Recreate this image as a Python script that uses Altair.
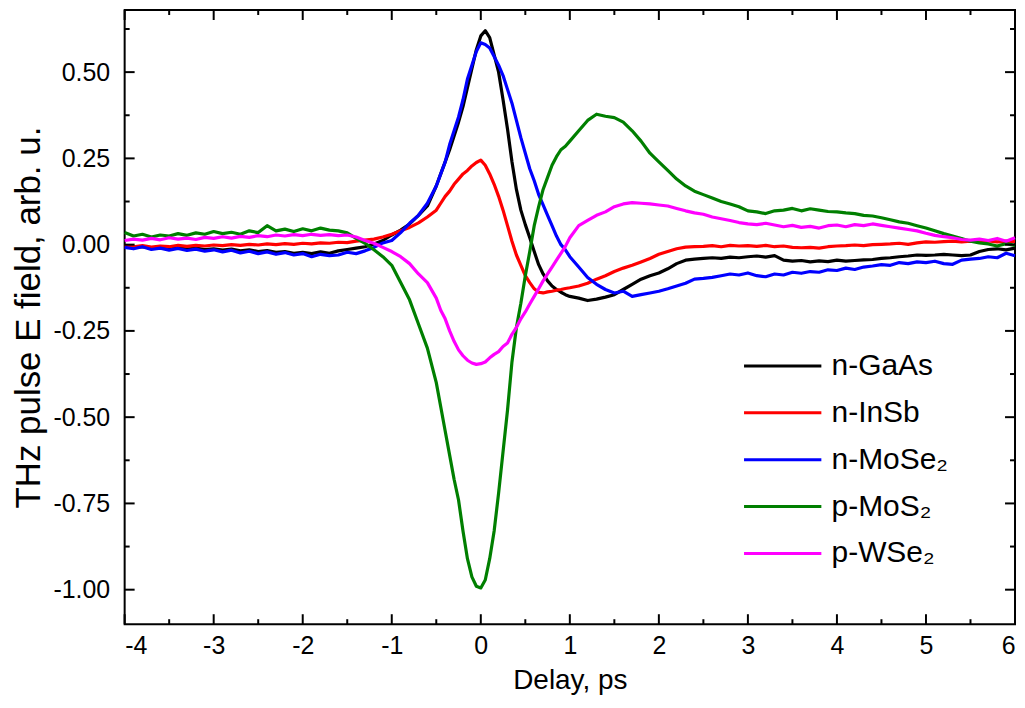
import altair as alt
import pandas as pd

# delay grid, ps (finer around the main pulse)
DELAY = [
    -4.0, -3.9, -3.8, -3.7, -3.6, -3.5, -3.4, -3.3, -3.2, -3.1,
    -3.0, -2.9, -2.8, -2.7, -2.6, -2.5, -2.4, -2.3, -2.2, -2.1,
    -2.0, -1.9, -1.8, -1.7, -1.6, -1.5, -1.4, -1.3, -1.2, -1.1,
    -1.0, -0.9, -0.8, -0.7, -0.6,
    -0.5, -0.45, -0.4, -0.35, -0.3, -0.25, -0.2, -0.15, -0.1, -0.05,
    0.0, 0.05, 0.1, 0.15, 0.2, 0.25, 0.3, 0.35, 0.4, 0.45,
    0.5, 0.55, 0.6, 0.65, 0.7, 0.75, 0.8, 0.85, 0.9, 0.95, 1.0,
    1.1, 1.2, 1.3, 1.4, 1.5, 1.6, 1.7, 1.8, 1.9, 2.0,
    2.1, 2.2, 2.3, 2.4, 2.5, 2.6, 2.7, 2.8, 2.9, 3.0,
    3.1, 3.2, 3.3, 3.4, 3.5, 3.6, 3.7, 3.8, 3.9, 4.0,
    4.1, 4.2, 4.3, 4.4, 4.5, 4.6, 4.7, 4.8, 4.9, 5.0,
    5.1, 5.2, 5.3, 5.4, 5.5, 5.6, 5.7, 5.8, 5.9, 6.0,
]

n_gaas = [
    -0.005, -0.008, -0.006, -0.010, -0.007, -0.011, -0.009, -0.013, -0.010, -0.014,
    -0.012, -0.016, -0.013, -0.018, -0.015, -0.020, -0.017, -0.022, -0.020, -0.025,
    -0.022, -0.026, -0.021, -0.025, -0.018, -0.014, -0.010, -0.006, 0.002, 0.012,
    0.028, 0.042, 0.060, 0.085, 0.112,
    0.17, 0.205, 0.24, 0.275, 0.315, 0.355, 0.40, 0.455, 0.51, 0.565,
    0.605, 0.62, 0.60, 0.55, 0.50, 0.42, 0.335, 0.24, 0.16, 0.10,
    0.058, 0.02, -0.02, -0.058, -0.085, -0.105, -0.12, -0.13, -0.138, -0.145, -0.15,
    -0.155, -0.162, -0.158, -0.152, -0.145, -0.13, -0.115, -0.10, -0.09, -0.082,
    -0.07, -0.055, -0.045, -0.042, -0.040, -0.038, -0.040, -0.036, -0.038, -0.035,
    -0.033, -0.036, -0.032, -0.045, -0.048, -0.046, -0.050, -0.047, -0.049, -0.045,
    -0.048, -0.046, -0.044, -0.043, -0.040, -0.038, -0.035, -0.033, -0.030, -0.031,
    -0.030, -0.028, -0.030, -0.032, -0.030, -0.020, -0.014, -0.012, -0.015, -0.010,
]

n_insb = [
    -0.004, -0.006, -0.003, -0.007, -0.004, -0.006, -0.002, -0.005, -0.002, -0.004,
    -0.001, -0.003, 0.000, -0.002, 0.001, -0.001, 0.002, 0.000, 0.003, 0.001,
    0.004, 0.002, 0.005, 0.004, 0.007, 0.006, 0.010, 0.013, 0.016, 0.022,
    0.030, 0.040, 0.050, 0.063, 0.080,
    0.10, 0.12, 0.14, 0.155, 0.175, 0.19, 0.205, 0.215, 0.228, 0.238,
    0.245, 0.23, 0.205, 0.175, 0.14, 0.10, 0.055, 0.01, -0.03, -0.06,
    -0.09, -0.11, -0.128, -0.138, -0.14, -0.137, -0.135, -0.132, -0.13, -0.127, -0.125,
    -0.12, -0.112, -0.10, -0.09, -0.078, -0.068, -0.06, -0.05, -0.04, -0.028,
    -0.02, -0.012, -0.007, -0.006, -0.005, -0.003, -0.006, -0.002, -0.004, -0.003,
    -0.005, -0.002, -0.006, -0.004, -0.008, -0.009, -0.008, -0.010, -0.006, -0.004,
    -0.003, -0.001, -0.003, 0.000, 0.001, 0.002, 0.004, 0.001, 0.005, 0.008,
    0.007, 0.009, 0.010, 0.008, 0.010, 0.009, 0.011, 0.008, 0.010, 0.009,
]

n_mose2 = [
    -0.008, -0.012, -0.006, -0.014, -0.010, -0.016, -0.011, -0.017, -0.013, -0.019,
    -0.015, -0.021, -0.016, -0.024, -0.019, -0.026, -0.021, -0.028, -0.023, -0.030,
    -0.026, -0.035, -0.028, -0.032, -0.030, -0.022, -0.026, -0.018, -0.008, 0.005,
    0.012, 0.035, 0.062, 0.085, 0.12,
    0.17, 0.205, 0.24, 0.29, 0.33, 0.37, 0.42, 0.48, 0.52, 0.56,
    0.585, 0.58, 0.57, 0.545, 0.52, 0.49, 0.45, 0.41, 0.36, 0.31,
    0.265, 0.22, 0.185, 0.145, 0.115, 0.085, 0.055, 0.025, 0.0, -0.015, -0.035,
    -0.065, -0.095, -0.115, -0.13, -0.14, -0.135, -0.15, -0.145, -0.14, -0.135,
    -0.128, -0.12, -0.112, -0.10, -0.098, -0.095, -0.09, -0.085, -0.088, -0.082,
    -0.09, -0.093, -0.085, -0.088, -0.08, -0.083, -0.078, -0.08, -0.073, -0.075,
    -0.068, -0.072, -0.065, -0.062, -0.058, -0.06, -0.052, -0.055, -0.05, -0.052,
    -0.048, -0.055, -0.057, -0.045, -0.042, -0.04, -0.035, -0.038, -0.025, -0.032,
]

p_mos2 = [
    0.035, 0.025, 0.030, 0.022, 0.028, 0.025, 0.032, 0.027, 0.034, 0.030,
    0.038, 0.032, 0.036, 0.030, 0.040, 0.035, 0.055, 0.040, 0.045, 0.038,
    0.046, 0.040, 0.048, 0.042, 0.040, 0.034, 0.018, 0.004, -0.015, -0.035,
    -0.06, -0.11, -0.16, -0.23, -0.30,
    -0.40, -0.47, -0.54, -0.61, -0.68, -0.74, -0.83, -0.91, -0.963, -0.99,
    -0.995, -0.972, -0.91, -0.83, -0.72, -0.60, -0.48, -0.34, -0.24, -0.17,
    -0.09, -0.02, 0.055, 0.11, 0.16, 0.195, 0.23, 0.255, 0.275, 0.285, 0.30,
    0.33, 0.36, 0.378, 0.372, 0.368, 0.355, 0.33, 0.30, 0.265, 0.24,
    0.215, 0.19, 0.17, 0.155, 0.145, 0.135, 0.125, 0.118, 0.11, 0.098,
    0.095, 0.09, 0.098, 0.10, 0.105, 0.098, 0.104, 0.10, 0.096, 0.095,
    0.092, 0.09, 0.085, 0.083, 0.078, 0.072, 0.066, 0.062, 0.055, 0.048,
    0.04, 0.032, 0.025, 0.018, 0.01, 0.005, 0.002, -0.004, 0.003, -0.002,
]

p_wse2 = [
    0.012, 0.016, 0.013, 0.018, 0.014, 0.020, 0.016, 0.019, 0.015, 0.021,
    0.018, 0.023, 0.019, 0.024, 0.021, 0.026, 0.023, 0.028, 0.025, 0.029,
    0.026, 0.030, 0.027, 0.029, 0.026, 0.028, 0.022, 0.012, 0.004, -0.008,
    -0.02, -0.035, -0.055, -0.085, -0.11,
    -0.155, -0.19, -0.215, -0.25, -0.28, -0.305, -0.322, -0.335, -0.343, -0.347,
    -0.345, -0.34, -0.328, -0.318, -0.31, -0.295, -0.285, -0.26, -0.24, -0.215,
    -0.195, -0.172, -0.15, -0.128, -0.105, -0.085, -0.065, -0.045, -0.025, -0.005, 0.02,
    0.055, 0.07, 0.085, 0.095, 0.11, 0.118, 0.122, 0.12, 0.118, 0.115,
    0.112, 0.105, 0.098, 0.092, 0.088, 0.08, 0.075, 0.07, 0.064, 0.06,
    0.058, 0.062, 0.057, 0.052, 0.056, 0.05, 0.053, 0.048, 0.055, 0.057,
    0.052, 0.058, 0.055, 0.06, 0.056, 0.052, 0.048, 0.044, 0.04, 0.033,
    0.027, 0.023, 0.02, 0.015, 0.013, 0.016, 0.012, 0.018, 0.01, 0.02,
]

SAMPLES = ["n-GaAs", "n-InSb", "n-MoSe\u2082", "p-MoS\u2082", "p-WSe\u2082"]
COLORS = ["#000000", "#ff0000", "#0000ff", "#007f00", "#ff00ff"]

X_MAJOR = [-4, -3, -2, -1, 0, 1, 2, 3, 4, 5, 6]
X_MINOR = [-3.5, -2.5, -1.5, -0.5, 0.5, 1.5, 2.5, 3.5, 4.5, 5.5]
Y_MAJOR = [-1.0, -0.75, -0.5, -0.25, 0.0, 0.25, 0.5]
Y_MINOR = [-0.875, -0.625, -0.375, -0.125, 0.125, 0.375, 0.625]

series = [n_gaas, n_insb, n_mose2, p_mos2, p_wse2]
for s in series:
    assert len(s) == len(DELAY), len(s)

rows = []
for name, vals in zip(SAMPLES, series):
    for t, v in zip(DELAY, vals):
        rows.append({"delay": t, "field": v, "sample": name})
df = pd.DataFrame(rows)

W, H = 893, 616
FONT = "Liberation Sans"
xscale = alt.Scale(domain=[-4, 6], nice=False, zero=False)
yscale = alt.Scale(domain=[-1.1, 0.68], nice=False, zero=False)

xaxis = alt.Axis(title="Delay, ps", values=X_MAJOR, grid=False, domain=False,
                 ticks=False, tickSize=0, labelFontSize=25, labelPadding=9,
                 labelFont=FONT, titleFont=FONT, titleFontSize=28,
                 titleFontWeight="normal", titlePadding=9, labelColor="black",
                 titleColor="black",
                 labelExpr="replace(format(datum.value, 'd'), '\u2212', '-')")
yaxis = alt.Axis(title="THz pulse E field, arb. u.", values=Y_MAJOR, grid=False,
                 domain=False, ticks=False, tickSize=0, labelFontSize=25,
                 labelPadding=15, labelFont=FONT, titleFont=FONT, titleFontSize=35,
                 titleFontWeight="normal", titlePadding=6, labelColor="black",
                 titleColor="black",
                 labelExpr="replace(format(datum.value, '.2f'), '\u2212', '-')")

lines = alt.Chart(df).mark_line(strokeWidth=3.2, strokeJoin="round").encode(
    x=alt.X("delay:Q", scale=xscale, axis=xaxis),
    y=alt.Y("field:Q", scale=yscale, axis=yaxis),
    color=alt.Color("sample:N", sort=SAMPLES,
                    scale=alt.Scale(domain=SAMPLES, range=COLORS),
                    legend=alt.Legend(title=None, orient="none", legendX=635, legendY=332,
                                      symbolType="M-1.65,0L1.65,0", symbolSize=2209,
                                      symbolStrokeWidth=3, labelFontSize=30, labelFont=FONT,
                                      labelColor="black", labelOffset=24, padding=0,
                                      rowPadding=7, labelLimit=0)),
    order=alt.Order("delay:Q"),
)


def ticks(values, chan, length, side):
    d = pd.DataFrame({"delay" if chan == "x" else "field": values})
    base = alt.Chart(d).mark_rule(color="black", strokeWidth=2)
    if chan == "x":
        y0 = H if side == "bottom" else 0
        y1 = y0 - length if side == "bottom" else length
        return base.encode(x=alt.X("delay:Q", scale=xscale, axis=xaxis),
                           y=alt.value(y0), y2=alt.value(y1))
    x0 = 0 if side == "left" else W
    x1 = length if side == "left" else W - length
    return base.encode(y=alt.Y("field:Q", scale=yscale, axis=yaxis),
                       x=alt.value(x0), x2=alt.value(x1))


tick_layers = []
for side in ["bottom", "top"]:
    tick_layers.append(ticks(X_MAJOR, "x", 10, side))
    tick_layers.append(ticks(X_MINOR, "x", 5, side))
for side in ["left", "right"]:
    tick_layers.append(ticks(Y_MAJOR, "y", 10, side))
    tick_layers.append(ticks(Y_MINOR, "y", 5, side))

chart = alt.layer(lines, *tick_layers).properties(
    width=W, height=H, padding={"left": 4, "top": 0, "right": 0, "bottom": 0}
).configure_view(
    stroke="black", strokeWidth=2
)

chart.save("out.html", embed_options={"renderer": "svg", "actions": False})
